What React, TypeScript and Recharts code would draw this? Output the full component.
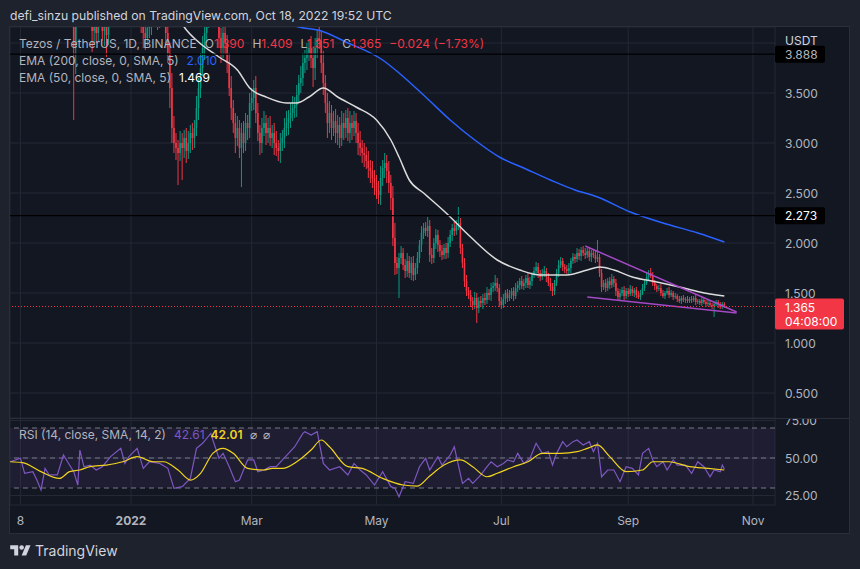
import React from "react";
import {
  ComposedChart,
  Bar,
  Line,
  XAxis,
  YAxis,
  CartesianGrid,
  ReferenceLine,
  ReferenceArea,
} from "recharts";

const FONT = "Inter, 'Noto Sans', sans-serif";
const GRAY = "#b2b5be";
const LIGHT = "#d1d4dc";
const RED = "#f23645";
const GREEN = "#089981";
const GRID = "#242834";
const PURPLE = "#7e57c2";
const YELLOW = "#f2d41f";

// day index: 0 = 1 Nov 2021
const monthDays = [7, 61, 120, 181, 242, 304, 365];
const monthLabels = ["8", "2022", "Mar", "May", "Jul", "Sep", "Nov"];
const priceTicks = [0.5, 1, 1.5, 2, 2.5, 3, 3.5, 4];
const rsiTicks = [25, 50, 75];

const firstDay = 2;
const firstOpen = 6.0;

// daily closes, 3 Nov 2021 .. 18 Oct 2022
const closes = [
  // Nov
  6.1, 6.3, 6.5, 6.4, 6.6, 6.9, 6.5, 6.2, 6.3, 6.1, 6.0, 5.9, 5.8, 5.5, 5.4, 5.0, 5.2, 5.3, 5.4, 5.2, 5.3, 5.5, 5.6, 5.4, 5.3, 5.2, 5.4, 5.3,
  // Dec
  5.3, 5.2, 5.0, 3.95, 4.45, 4.6, 4.5, 4.7, 4.6, 4.5, 4.55, 4.4, 4.12, 4.25, 4.1, 4.3, 4.35, 4.12, 4.25, 4.08, 4.4, 4.6, 4.8, 4.7, 4.9, 4.8, 4.7, 4.5, 4.6, 4.4, 4.3,
  // Jan
  4.5, 4.6, 4.5, 4.4, 4.3, 4.2, 4.1, 4.05, 4.15, 4.2, 4.3, 4.4, 4.35, 4.25, 4.3, 4.4, 4.3, 4.1, 3.9, 3.55, 3.15, 3.0, 2.95, 2.9, 3.0, 2.95, 3.05, 2.92, 3.0, 3.1, 3.05,
  // Feb
  3.15, 3.35, 3.55, 3.75, 3.95, 4.1, 4.3, 4.45, 4.35, 4.5, 4.4, 4.3, 4.05, 3.95, 4.1, 4.0, 3.8, 3.55, 3.35, 3.2, 3.05, 3.15, 2.95, 3.1, 3.0, 3.2, 3.15, 3.4,
  // Mar
  3.45, 3.55, 3.3, 3.1, 3.0, 3.15, 3.2, 3.1, 3.15, 3.05, 3.1, 3.0, 2.95, 2.92, 3.0, 3.05, 3.15, 3.2, 3.25, 3.3, 3.35, 3.38, 3.48, 3.6, 3.65, 3.8, 3.85, 3.9, 3.95, 3.85, 3.75,
  // Apr
  3.95, 4.05, 4.02, 3.8, 3.6, 3.4, 3.2, 3.3, 3.15, 3.22, 3.1, 3.18, 3.05, 3.2, 3.15, 3.25, 3.1, 3.2, 3.15, 3.22, 3.1, 3.0, 2.95, 2.9, 2.88, 2.82, 2.75, 2.72, 2.65, 2.6,
  // May
  2.52, 2.48, 2.65, 2.75, 2.8, 2.72, 2.6, 2.45, 2.05, 1.8, 1.75, 1.85, 1.9, 1.78, 1.72, 1.82, 1.7, 1.8, 1.68, 1.75, 1.85, 1.98, 2.1, 2.15, 2.12, 2.17, 1.88, 1.85, 2.0, 2.08, 1.98,
  // Jun
  1.92, 1.88, 1.95, 1.9, 2.0, 2.08, 2.15, 2.12, 2.18, 2.2, 1.95, 1.8, 1.62, 1.52, 1.48, 1.42, 1.38, 1.45, 1.35, 1.42, 1.4, 1.45, 1.43, 1.5, 1.48, 1.55, 1.57, 1.6, 1.55, 1.42,
  // Jul
  1.38, 1.44, 1.5, 1.45, 1.48, 1.52, 1.47, 1.55, 1.58, 1.62, 1.57, 1.6, 1.65, 1.58, 1.62, 1.68, 1.72, 1.76, 1.7, 1.66, 1.7, 1.72, 1.66, 1.6, 1.56, 1.52, 1.6, 1.7, 1.78, 1.82, 1.76,
  // Aug
  1.74, 1.72, 1.75, 1.82, 1.86, 1.84, 1.9, 1.87, 1.93, 1.9, 1.88, 1.92, 1.86, 1.9, 1.88, 1.84, 1.86, 1.7, 1.56, 1.6, 1.55, 1.62, 1.58, 1.64, 1.6, 1.52, 1.46, 1.5, 1.53, 1.47, 1.52,
  // Sep
  1.49, 1.54, 1.5, 1.53, 1.48, 1.46, 1.5, 1.55, 1.6, 1.66, 1.7, 1.67, 1.6, 1.57, 1.54, 1.55, 1.5, 1.47, 1.5, 1.52, 1.48, 1.5, 1.46, 1.47, 1.44, 1.42, 1.45, 1.43, 1.44, 1.42,
  // Oct
  1.44, 1.43, 1.45, 1.41, 1.42, 1.4, 1.43, 1.41, 1.39, 1.4, 1.38, 1.37, 1.39, 1.41, 1.38, 1.36, 1.39, 1.365,
];

// upper / lower wick lengths in cents
const wickUp = [
  12, 10, 15, 8, 20, 25, 10, 8, 12, 6, 10, 8, 10, 6, 12, 15, 10, 8, 12, 6, 10, 12, 15, 8, 10, 6, 10, 8,
  10, 12, 15, 20, 25, 10, 15, 12, 10, 15, 8, 10, 15, 10, 12, 10, 15, 10, 12, 8, 15, 10, 12, 10, 15, 10, 8, 12, 10, 15, 10,
  12, 10, 15, 10, 8, 10, 12, 15, 10, 12, 10, 15, 10, 12, 10, 15, 10, 8, 12, 10, 15, 12, 10, 8, 12, 10, 8, 10, 12, 8, 10,
  8, 12, 10, 15, 12, 10, 15, 12, 10, 15, 12, 10, 15, 10, 12, 10, 8, 10, 12, 8, 10, 12, 8, 10, 12, 10, 8, 10,
  10, 8, 12, 10, 8, 10, 12, 8, 10, 12, 8, 10, 12, 8, 10, 8, 10, 12, 8, 10, 12, 8, 10, 8, 12, 10, 8, 10, 8, 12, 10,
  10, 8, 11, 10, 12, 8, 10, 12, 8, 10, 12, 10, 8, 12, 10, 8, 10, 12, 8, 10, 8, 10, 12, 8, 10, 8, 10, 8, 10, 8,
  8, 10, 12, 8, 10, 8, 10, 8, 12, 15, 6, 5, 7, 5, 6, 8, 5, 6, 7, 5, 6, 5, 7, 5, 6, 9, 6, 7, 5, 6, 5,
  5, 6, 4, 5, 6, 5, 4, 6, 5, 16, 5, 4, 5, 6, 4, 5, 4, 6, 5, 4, 5, 4, 5, 6, 4, 5, 4, 8, 5, 4,
  4, 5, 3, 4, 5, 3, 4, 5, 4, 3, 5, 4, 3, 5, 4, 3, 4, 5, 4, 3, 4, 5, 3, 4, 5, 4, 3, 4, 5, 4, 3,
  3, 4, 5, 3, 4, 3, 5, 4, 3, 4, 5, 3, 4, 3, 4, 5, 17, 3, 4, 3, 4, 3, 4, 5, 3, 4, 3, 4, 3, 4, 3,
  3, 4, 3, 2, 3, 4, 3, 4, 3, 4, 3, 5, 4, 3, 2, 3, 4, 3, 2, 3, 4, 3, 2, 3, 2, 3, 2, 3, 2, 3,
  2, 3, 2, 3, 2, 2, 3, 2, 2, 3, 2, 2, 3, 2, 2, 3, 2, 1.9,
];
const wickDn = [
  10, 8, 12, 15, 8, 10, 20, 12, 10, 15, 8, 10, 12, 25, 15, 30, 10, 12, 8, 15, 10, 8, 12, 15, 10, 12, 8, 10,
  10, 15, 12, 72, 26, 10, 15, 12, 10, 8, 12, 10, 21, 12, 10, 8, 12, 10, 15, 22, 10, 10, 12, 15, 10, 8, 12, 15, 10, 8, 10,
  10, 12, 8, 10, 12, 10, 15, 12, 8, 10, 12, 10, 8, 12, 10, 10, 12, 15, 10, 20, 15, 10, 12, 32, 8, 32, 10, 12, 8, 10, 12,
  10, 8, 12, 10, 8, 12, 10, 15, 12, 10, 8, 12, 10, 15, 10, 12, 10, 8, 12, 10, 15, 8, 10, 39, 10, 8, 12, 10,
  8, 12, 10, 8, 12, 10, 8, 12, 10, 8, 10, 12, 8, 10, 12, 8, 10, 8, 12, 10, 8, 10, 12, 8, 10, 8, 10, 12, 8, 10, 19,
  12, 10, 8, 10, 12, 10, 15, 10, 12, 8, 10, 12, 10, 8, 12, 10, 8, 10, 12, 8, 10, 12, 8, 10, 12, 8, 10, 12, 10, 12,
  8, 9, 10, 8, 10, 12, 10, 12, 8, 12, 6, 30, 6, 5, 7, 6, 5, 7, 6, 5, 6, 5, 7, 6, 5, 6, 7, 6, 5, 6, 7,
  6, 5, 4, 6, 5, 4, 6, 5, 4, 5, 6, 5, 6, 5, 4, 6, 5, 4, 15, 5, 4, 6, 5, 4, 5, 6, 4, 5, 4, 6,
  4, 3, 5, 4, 3, 4, 5, 3, 4, 5, 3, 4, 5, 3, 4, 5, 3, 4, 5, 4, 3, 4, 5, 3, 4, 5, 4, 3, 4, 3, 4,
  4, 3, 4, 5, 3, 4, 3, 4, 5, 3, 4, 3, 4, 5, 3, 4, 3, 4, 5, 3, 4, 3, 4, 3, 4, 5, 3, 4, 3, 4, 3,
  3, 2, 3, 4, 3, 2, 3, 2, 3, 2, 3, 2, 3, 4, 3, 2, 3, 2, 3, 2, 3, 2, 3, 2, 3, 2, 3, 2, 3, 2,
  2, 3, 2, 3, 2, 2, 3, 2, 3, 2, 2, 3, 11, 2, 3, 2, 2, 1.4,
];

const ema50Days = [84, 87, 94, 104, 113, 119, 127, 137, 142, 148, 155, 162, 171, 181, 188, 192, 197, 204, 215, 227, 240, 251, 261, 274, 284, 290, 297, 306, 318, 329, 339, 351];
const ema50Vals = [4.26, 4.16, 4.01, 3.86, 3.73, 3.55, 3.46, 3.4, 3.4, 3.46, 3.55, 3.46, 3.36, 3.23, 3.03, 2.86, 2.63, 2.5, 2.3, 2.06, 1.83, 1.73, 1.68, 1.68, 1.73, 1.76, 1.73, 1.66, 1.61, 1.56, 1.51, 1.469];

const ema200Days = [132, 143, 154, 166, 184, 192, 205, 217, 229, 241, 254, 266, 278, 289, 305, 321, 338, 351];
const ema200Vals = [4.24, 4.16, 4.12, 4.01, 3.83, 3.7, 3.46, 3.23, 3.03, 2.86, 2.74, 2.63, 2.53, 2.46, 2.31, 2.2, 2.1, 2.01];

const upperTrendDays = [283, 357];
const upperTrendVals = [1.97, 1.31];
const lowerTrendDays = [284, 357];
const lowerTrendVals = [1.46, 1.3];

const rsiDays = [2, 7, 9, 13, 15, 17, 19, 21, 25, 28, 30, 33, 35, 36, 38, 41, 44, 47, 51, 56, 58, 60, 64, 67, 70, 75, 79, 82, 86, 90, 93, 96, 100, 101, 104, 106, 109, 112, 114, 118, 121, 123, 126, 129, 132, 135, 138, 141, 145, 146, 149, 152, 155, 158, 163, 167, 170, 173, 176, 180, 184, 188, 190, 192, 195, 199, 202, 205, 207, 211, 213, 217, 219, 221, 223, 226, 228, 232, 235, 237, 240, 243, 245, 248, 250, 253, 256, 259, 262, 265, 267, 269, 272, 274, 277, 279, 282, 285, 287, 289, 291, 294, 297, 300, 303, 306, 309, 311, 314, 316, 318, 321, 323, 326, 328, 332, 335, 338, 341, 344, 346, 349, 350, 351];
const rsiVals = [47.5, 49.8, 39.8, 40.9, 35.3, 28.7, 43.1, 38.7, 38.7, 52, 47.5, 40.9, 32, 55.3, 44.2, 45.3, 42, 44.2, 50.9, 56.4, 46.4, 50.9, 56.4, 43.1, 47.5, 46.4, 43.1, 29.8, 30.9, 36.4, 56.4, 59.8, 66.4, 62, 49.8, 53.1, 44.2, 34.2, 35.3, 48.7, 48.7, 40.9, 42, 44.2, 44.2, 48.7, 53.1, 57.5, 66.4, 67.5, 65.3, 67.5, 46.4, 42, 44.2, 38.7, 46.4, 42, 38.7, 32, 40.9, 30.9, 29.8, 24.2, 34.2, 33.1, 44.2, 49.8, 42, 50.9, 45.3, 52, 57.5, 45.3, 33.1, 36.4, 33.1, 38.7, 44.2, 47.5, 44.2, 46.4, 48.7, 47.5, 53.1, 46.4, 49.8, 59.8, 53.1, 54.2, 45.3, 53.1, 60.9, 57.5, 60.9, 62, 58.7, 60.9, 54.2, 59.8, 37.5, 42, 42, 34.2, 44.2, 43.1, 38.7, 53.1, 56.4, 48.7, 44.2, 47.5, 42, 48.7, 45.3, 45.3, 39.8, 47.5, 44.2, 37.5, 42, 40.9, 45.3, 42.61];

const smaDays = [2, 8, 17, 26, 31, 36, 41, 49, 57, 64, 72, 77, 84, 90, 95, 101, 106, 111, 118, 126, 130, 135, 142, 149, 154, 158, 167, 174, 184, 194, 201, 207, 214, 222, 228, 235, 240, 248, 255, 262, 271, 279, 284, 289, 295, 303, 311, 316, 324, 334, 343, 351];
const smaVals = [47.5, 46.9, 40.9, 36.4, 40.9, 42, 44.2, 45.3, 47.5, 50.9, 47.5, 47.5, 42, 35.3, 39.8, 53.1, 56.4, 53.1, 43.1, 42, 43.1, 43.1, 47.5, 55.3, 62, 57.5, 44.2, 43.1, 36.4, 32, 31.3, 38, 45.3, 48.7, 44.2, 37.5, 39.8, 44.2, 47.5, 53.1, 53.1, 54.2, 56.4, 58.7, 50.9, 40.9, 42, 47.5, 47.5, 44.2, 43.1, 42.01];

const candles = closes.map((c, i) => {
  const o = i === 0 ? firstOpen : closes[i - 1];
  const h = Math.max(o, c) + (wickUp[i] ?? 3) / 100;
  const l = Math.min(o, c) - (wickDn[i] ?? 3) / 100;
  return { d: firstDay + i, o, h, l, c, range: [l, h] };
});

const pairs = (days: number[], vals: number[]) => days.map((d, i) => ({ d, v: vals[i] }));
const ema50 = pairs(ema50Days, ema50Vals);
const ema200 = pairs(ema200Days, ema200Vals);
const upperTrend = pairs(upperTrendDays, upperTrendVals);
const lowerTrend = pairs(lowerTrendDays, lowerTrendVals);
const rsi = pairs(rsiDays, rsiVals);
const rsiSma = pairs(smaDays, smaVals);

const X_DOMAIN = [1.86, 375.75];

const Candle = (props: any) => {
  const { x, y, width, height, payload } = props;
  if (!payload || !isFinite(y) || !isFinite(height)) return null;
  const { o, h, l, c } = payload;
  const k = h - l > 0 ? height / (h - l) : 0;
  const cx = x + width / 2;
  const yO = y + (h - o) * k;
  const yC = y + (h - c) * k;
  const color = c >= o ? GREEN : RED;
  return (
    <g>
      <line x1={cx} x2={cx} y1={y} y2={y + height} stroke={color} strokeWidth={1} />
      <rect x={cx - 0.8} y={Math.min(yO, yC)} width={1.6} height={Math.max(Math.abs(yO - yC), 1)} fill={color} />
    </g>
  );
};

const PriceTick = (props: any) => {
  const { x, y, payload } = props;
  if (Math.abs(payload.value - 4) < 1e-6) return <g />;
  return (
    <text x={x + 10} y={y} dominantBaseline="central" fill={GRAY} fontSize={12} fontFamily={FONT}>
      {payload.value.toFixed(3)}
    </text>
  );
};

const RsiTick = (props: any) => {
  const { x, y, payload } = props;
  return (
    <text x={x + 10} y={y} dominantBaseline="central" fill={GRAY} fontSize={12} fontFamily={FONT}>
      {payload.value.toFixed(2)}
    </text>
  );
};

const TimeTick = (props: any) => {
  const { x, y, payload } = props;
  const label = monthLabels[monthDays.indexOf(payload.value)];
  return (
    <text x={x} y={y + 15} textAnchor="middle" dominantBaseline="central" fill={GRAY} fontSize={12}
      fontWeight={label === "2022" ? 700 : 400} fontFamily={FONT}>
      {label}
    </text>
  );
};

const tag = (lines: string[], bg: string, fg: string, w: number, top: number, h: number) => (props: any) => {
  const vb = props.viewBox || {};
  const ax = (vb.x ?? 0) + (vb.width ?? 0);
  const y = vb.y ?? 0;
  return (
    <g>
      <rect x={ax} y={y - top} width={w} height={h} rx={2} fill={bg} />
      {lines.map((t, i) => (
        <text key={i} x={ax + 10} y={y - top + 8.5 + i * 14} dominantBaseline="central" fill={fg} fontSize={12} fontFamily={FONT}>
          {t}
        </text>
      ))}
    </g>
  );
};

const legendLine: React.CSSProperties = {
  position: "absolute",
  left: 19,
  fontSize: 12,
  lineHeight: "16px",
  whiteSpace: "pre",
  color: GRAY,
};

export default function App() {
  return (
    <div style={{ position: "fixed", left: 0, top: 0, width: 860, height: 569, background: "#1e222d", fontFamily: FONT, overflow: "hidden" }}>
      <div style={{ position: "absolute", left: 10, top: 8, fontSize: 12.2, lineHeight: "16px", color: LIGHT }}>
        defi_sinzu published on TradingView.com, Oct 18, 2022 19:52 UTC
      </div>
      <div style={{ position: "absolute", left: 10, top: 27, width: 839, height: 506, background: "#131722", boxShadow: "0 0 0 1px #2a2e39" }} />

      <div style={{ position: "absolute", left: 10, top: 27 }}>
        <ComposedChart width={839} height={391} data={candles} margin={{ top: 0, right: 0, left: 0, bottom: 0 }}>
          <CartesianGrid stroke={GRID} />
          <XAxis type="number" dataKey="d" domain={X_DOMAIN} allowDataOverflow ticks={monthDays} hide interval={0} />
          <YAxis orientation="right" width={74} domain={[0.25, 4.16]} allowDataOverflow ticks={priceTicks} interval={0}
            tick={PriceTick} tickSize={0} tickMargin={0} axisLine={false} tickLine={false} />
          <Bar dataKey="range" barSize={2} shape={Candle} isAnimationActive={false} />
          <Line data={ema200} dataKey="v" type="monotone" stroke="#2962ff" strokeWidth={1.5} dot={false} isAnimationActive={false} />
          <Line data={ema50} dataKey="v" type="monotone" stroke="#dcdcdc" strokeWidth={1.5} dot={false} isAnimationActive={false} />
          <Line data={upperTrend} dataKey="v" type="linear" stroke="#a548c4" strokeWidth={1.5} dot={false} isAnimationActive={false} />
          <Line data={lowerTrend} dataKey="v" type="linear" stroke="#a548c4" strokeWidth={1.5} dot={false} isAnimationActive={false} />
          <ReferenceLine y={1.365} stroke={RED} strokeDasharray="1 2" label={tag(["1.365", "04:08:00"], RED, "#ffffff", 69, 8, 31)} />
          <ReferenceLine y={3.888} stroke="#000000" strokeWidth={1.2} label={tag(["3.888"], "#000000", GRAY, 50, 8.5, 17)} />
          <ReferenceLine y={2.273} stroke="#000000" strokeWidth={1.2} label={tag(["2.273"], "#000000", "#ffffff", 50, 8.5, 17)} />
        </ComposedChart>
      </div>

      <div style={{ position: "absolute", left: 10, top: 418, width: 839, height: 115, overflow: "hidden" }}>
        <ComposedChart width={839} height={115} margin={{ top: 0, right: 0, left: 0, bottom: 0 }}>
          <CartesianGrid stroke={GRID} />
          <XAxis type="number" dataKey="d" domain={X_DOMAIN} allowDataOverflow ticks={monthDays} height={28}
            tick={TimeTick} tickSize={0} tickMargin={0} axisLine={false} tickLine={false} interval={0} />
          <YAxis orientation="right" width={74} domain={[18.67, 76.67]} allowDataOverflow ticks={rsiTicks} interval={0}
            tick={RsiTick} tickSize={0} tickMargin={0} axisLine={false} tickLine={false} />
          <ReferenceArea y1={30} y2={70} fill={PURPLE} fillOpacity={0.1} stroke="none" />
          <ReferenceLine y={70} stroke="#787b86" strokeDasharray="5 4" />
          <ReferenceLine y={50} stroke="#787b86" strokeDasharray="5 4" />
          <ReferenceLine y={30} stroke="#787b86" strokeDasharray="5 4" />
          <Line data={rsi} dataKey="v" type="linear" stroke={PURPLE} strokeWidth={1.2} dot={false} isAnimationActive={false} />
          <Line data={rsiSma} dataKey="v" type="monotone" stroke={YELLOW} strokeWidth={1.2} dot={false} isAnimationActive={false} />
        </ComposedChart>
      </div>

      <div style={{ position: "absolute", left: 10, top: 418, width: 839, height: 1, background: "#2a2e39" }} />

      <div style={{ ...legendLine, top: 35.5 }}>
        <span>Tezos / TetherUS, 1D, BINANCE</span>
        <span style={{ marginLeft: 8 }}>O</span><span style={{ color: RED }}>1.390</span>
        <span style={{ marginLeft: 8 }}>H</span><span style={{ color: RED }}>1.409</span>
        <span style={{ marginLeft: 8 }}>L</span><span style={{ color: RED }}>1.351</span>
        <span style={{ marginLeft: 8 }}>C</span><span style={{ color: RED }}>1.365</span>
        <span style={{ marginLeft: 8, color: RED }}>−0.024 (−1.73%)</span>
      </div>
      <div style={{ ...legendLine, top: 53 }}>
        <span>EMA (200, close, 0, SMA, 5)</span>
        <span style={{ marginLeft: 8, color: "#2962ff" }}>2.010</span>
      </div>
      <div style={{ ...legendLine, top: 70 }}>
        <span>EMA (50, close, 0, SMA, 5)</span>
        <span style={{ marginLeft: 8, color: "#ffffff" }}>1.469</span>
      </div>
      <div style={{ ...legendLine, top: 427 }}>
        <span>RSI (14, close, SMA, 14, 2)</span>
        <span style={{ marginLeft: 8, color: PURPLE }}>42.61</span>
        <span style={{ marginLeft: 6, color: YELLOW, fontWeight: 600 }}>42.01</span>
        <span style={{ marginLeft: 8 }}>⌀</span>
        <span style={{ marginLeft: 6 }}>⌀</span>
      </div>

      <div style={{ position: "absolute", left: 785, top: 33, fontSize: 12, lineHeight: "16px", color: LIGHT }}>USDT</div>

      <div style={{ position: "absolute", left: 10, top: 543, display: "flex", alignItems: "center", gap: 4 }}>
        <svg width={21} height={16} viewBox="0 0 36 28">
          <path d="M14 22H7V11H0V4h14v18zM28 22h-8l7.5-18h8L28 22z" fill={LIGHT} />
          <circle cx={20} cy={8} r={4} fill={LIGHT} />
        </svg>
        <span style={{ fontSize: 14, lineHeight: "16px", color: LIGHT }}>TradingView</span>
      </div>
    </div>
  );
}
